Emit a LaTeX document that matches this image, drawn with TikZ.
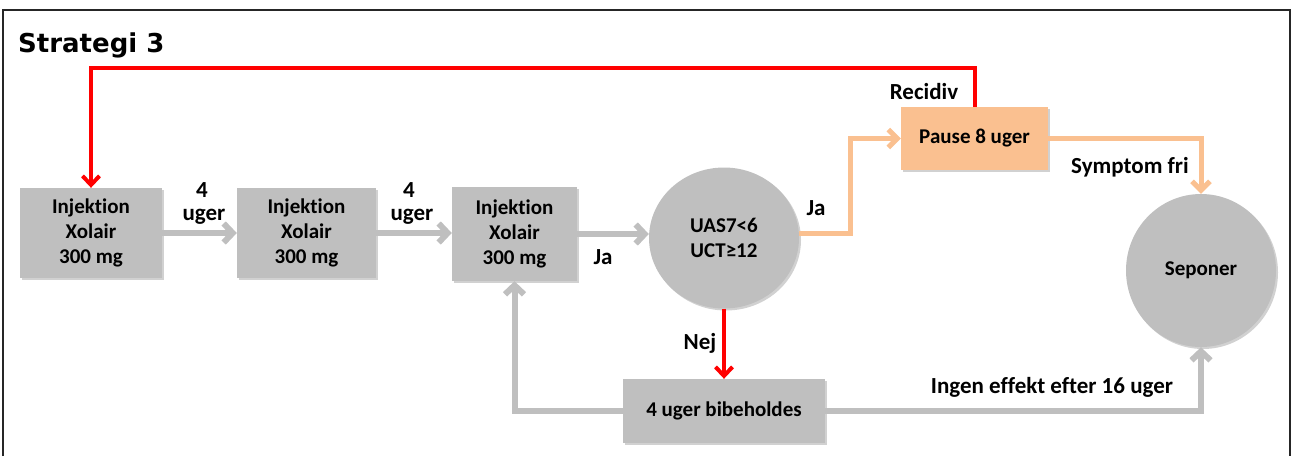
\documentclass[tikz,border=0pt]{standalone}
\usepackage{fontspec}
\setmainfont{Carlito}[Ligatures={NoCommon,NoContextual}]
\newfontfamily\titlefont{DejaVu Sans}
\usetikzlibrary{arrows.meta,shapes.geometric,shadows}
\definecolor{boxgray}{HTML}{BFBFBF}
\definecolor{linegray}{HTML}{BFBFBF}
\definecolor{paleorange}{HTML}{FAC090}
\definecolor{strongred}{HTML}{FF0000}
\tikzset{
  softshadow/.style={drop shadow={shadow xshift=2pt,shadow yshift=-2pt,opacity=0.18,fill=black}},
  graybox/.style={rectangle,fill=boxgray,softshadow,inner sep=0pt,align=center,
    font=\bfseries\fontsize{21}{25}\selectfont},
  grayoval/.style={ellipse,fill=boxgray,softshadow,inner sep=0pt,align=center,
    font=\bfseries\fontsize{21}{25}\selectfont},
  orangebox/.style={rectangle,fill=paleorange,softshadow,inner sep=0pt,align=center,
    font=\bfseries\fontsize{21}{25}\selectfont},
  lbl/.style={inner sep=0pt,font=\bfseries\fontsize{23}{27}\selectfont},
  graylink/.style={draw=linegray,line width=6pt,-{Straight Barb[length=9pt,width=19pt]}},
  orangelink/.style={draw=paleorange,line width=5pt,-{Straight Barb[length=9pt,width=18pt]}},
  redlink/.style={draw=strongred,line width=4pt,-{Straight Barb[length=9pt,width=17pt]}}
}
\begin{document}
\begin{tikzpicture}[x=1pt,y=-1pt]
\useasboundingbox (0,0) rectangle (1291,456);
% frame
\draw[line width=2pt,black!85] (3,456) -- (3,9.5) -- (1289.5,9.5) -- (1289.5,456);
% title
\node[anchor=base west,inner sep=0pt,font=\titlefont\bfseries\fontsize{26}{30}\selectfont] (title) at (18,52) {Strategi 3};
% nodes
\node[graybox,minimum width=142pt,minimum height=90pt] (b1) at (91,233) {Injektion\\Xolair\\300 mg};
\node[graybox,minimum width=139pt,minimum height=90pt] (b2) at (306.5,233) {Injektion\\Xolair\\300 mg};
\node[graybox,minimum width=125pt,minimum height=94pt] (b3) at (514.5,234) {Injektion\\Xolair\\300 mg};
\node[grayoval,minimum width=150pt,minimum height=141pt] (c1) at (724,238) {UAS7<6\\UCT≥12};
\node[orangebox,minimum width=147pt,minimum height=63pt] (pause) at (974.5,138.5) {Pause 8 uger};
\node[grayoval,minimum width=150pt,minimum height=153pt] (sep) at (1201,270.5) {Seponer};
\node[graybox,minimum width=202pt,minimum height=64pt] (bb) at (724,411) {4 uger bibeholdes};
% connectors
\draw[graylink] (b1.east) -- (b2.west);
\draw[graylink] (b2.east) -- (b2.east -| b3.west);
\draw[graylink] (b3.east) -- (b3.east -| c1.west);
\draw[orangelink] ([yshift=5pt]c1.east) -- ++(51,0) |- (pause.west);
\draw[orangelink] (pause.east) -| (sep.north);
\draw[redlink] (pause.north) -- ++(0,-39) -| (b1.north);
\draw[redlink] (c1.south) -- (bb.north);
\draw[graylink] (bb.west) -| (b3.south);
\draw[graylink] (bb.east) -| (sep.south);
% labels
\node[lbl] (l4a) at (202,190) {4};
\node[lbl] (lua) at (204,217) {uger};
\node[lbl] (l4b) at (409,190) {4};
\node[lbl] (lub) at (412,217) {uger};
\node[lbl] (lja1) at (603,257) {Ja};
\node[lbl] (lja2) at (816,208) {Ja};
\node[lbl] (lrec) at (924,92) {Recidiv};
\node[lbl] (lsym) at (1130,167) {Symptom fri};
\node[lbl] (lnej) at (700,343) {Nej};
\node[lbl] (ling) at (1052,387) {Ingen effekt efter 16 uger};
\end{tikzpicture}
\end{document}
